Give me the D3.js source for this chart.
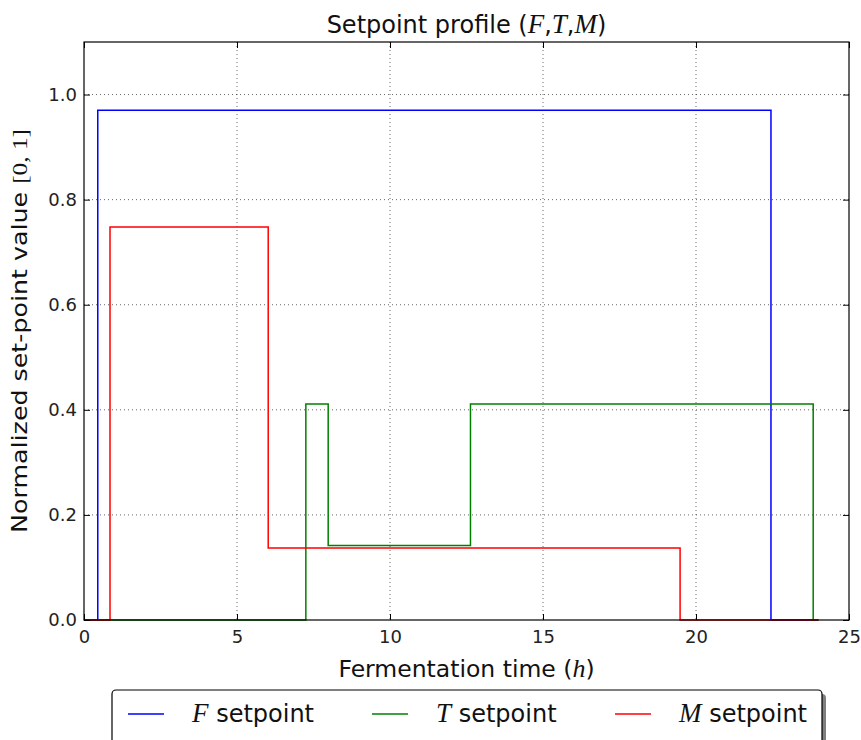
<!DOCTYPE html>
<html>
<head>
<meta charset="utf-8">
<script src="https://cdn.jsdelivr.net/npm/d3@7"></script>
<style>
  body { margin: 0; background: #fff; }
  svg { font-family: "DejaVu Sans", sans-serif; }
  .math { font-family: "Liberation Serif", serif; font-style: italic; }
</style>
</head>
<body>
<div id="chart"></div>
<script>
// step profiles: each value holds from its time until the next time
const fTimes = [0, 0.45, 22.45, 24];
const fValues = [0, 0.97, 0, 0];
const tTimes = [0, 7.25, 7.98, 12.63, 23.83, 24];
const tValues = [0, 0.411, 0.142, 0.411, 0, 0];
const mTimes = [0, 0.85, 6.02, 19.48, 24];
const mValues = [0, 0.748, 0.137, 0, 0];

const xTicks = [0, 5, 10, 15, 20, 25];
const yTicks = [0, 0.2, 0.4, 0.6, 0.8, 1.0];

const series = [
  { name: 'F', times: fTimes, values: fValues, color: '#0000ff' },
  { name: 'T', times: tTimes, values: tValues, color: '#008000' },
  { name: 'M', times: mTimes, values: mValues, color: '#ff0000' }
];

const width = 861, height = 740;
const margin = { left: 84, right: 12, top: 42, bottom: 120 };

const svg = d3.select('#chart').append('svg')
  .attr('width', width)
  .attr('height', height);

const x = d3.scaleLinear().domain([0, 25]).range([margin.left, width - margin.right]);
const y = d3.scaleLinear().domain([0, 1.1]).range([height - margin.bottom, margin.top]);

const plotW = x(25) - x(0);
const plotH = y(0) - y(1.1);

// grid
const grid = svg.append('g');
grid.selectAll('line.gx').data(xTicks.slice(1, -1)).enter().append('line')
  .attr('x1', d => x(d)).attr('x2', d => x(d))
  .attr('y1', y(1.1)).attr('y2', y(0))
  .attr('stroke', '#000').attr('stroke-width', 0.6).attr('stroke-dasharray', '1,3');
grid.selectAll('line.gy').data(yTicks.slice(1)).enter().append('line')
  .attr('x1', x(0)).attr('x2', x(25))
  .attr('y1', d => y(d)).attr('y2', d => y(d))
  .attr('stroke', '#000').attr('stroke-width', 0.6).attr('stroke-dasharray', '1,3');

// lines
const line = d3.line().curve(d3.curveStepAfter)
  .x(d => x(d[0])).y(d => y(d[1]));

svg.append('g').selectAll('path').data(series).enter().append('path')
  .attr('d', s => line(s.times.map((t, i) => [t, s.values[i]])))
  .attr('fill', 'none')
  .attr('stroke', s => s.color)
  .attr('stroke-width', 1.5);

// axes (inward ticks, classic style)
const axisFont = g => g.selectAll('text')
  .attr('font-family', '"DejaVu Sans", sans-serif')
  .attr('font-size', 18).attr('fill', '#222');

svg.append('g')
  .attr('transform', `translate(0,${y(0)})`)
  .call(d3.axisBottom(x).tickValues(xTicks).tickFormat(d3.format('d')).tickSizeInner(-6).tickSizeOuter(0).tickPadding(10))
  .call(g => g.select('.domain').remove())
  .call(axisFont);

svg.append('g')
  .attr('transform', `translate(0,${y(1.1)})`)
  .call(d3.axisTop(x).tickValues(xTicks).tickFormat('').tickSizeInner(-6).tickSizeOuter(0))
  .call(g => g.select('.domain').remove());

svg.append('g')
  .attr('transform', `translate(${x(0)},0)`)
  .call(d3.axisLeft(y).tickValues(yTicks).tickFormat(d3.format('.1f')).tickSizeInner(-6).tickSizeOuter(0).tickPadding(7))
  .call(g => g.select('.domain').remove())
  .call(axisFont);

svg.append('g')
  .attr('transform', `translate(${x(25)},0)`)
  .call(d3.axisRight(y).tickValues(yTicks).tickFormat('').tickSizeInner(-6).tickSizeOuter(0))
  .call(g => g.select('.domain').remove());

// frame
svg.append('rect')
  .attr('x', x(0)).attr('y', y(1.1))
  .attr('width', plotW).attr('height', plotH)
  .attr('fill', 'none').attr('stroke', '#000').attr('stroke-width', 1.2);

// title
const title = svg.append('text')
  .attr('x', (x(0) + x(25)) / 2).attr('y', 33)
  .attr('text-anchor', 'middle').attr('font-size', 24).attr('fill', '#111');
title.append('tspan').text('Setpoint profile (');
title.append('tspan').attr('class', 'math').attr('font-size', 27).text('F');
title.append('tspan').text(',');
title.append('tspan').attr('class', 'math').attr('font-size', 27).text('T');
title.append('tspan').text(',');
title.append('tspan').attr('class', 'math').attr('font-size', 27).text('M');
title.append('tspan').text(')');

// x label
const xl = svg.append('text')
  .attr('x', (x(0) + x(25)) / 2).attr('y', 677)
  .attr('text-anchor', 'middle').attr('font-size', 23.5).attr('fill', '#111');
xl.append('tspan').text('Fermentation time (');
xl.append('tspan').attr('class', 'math').attr('font-size', 26).text('h');
xl.append('tspan').text(')');

// y label
const yl = svg.append('text')
  .attr('transform', `translate(27,${(y(0) + y(1.1)) / 2}) rotate(-90)`)
  .attr('text-anchor', 'middle').attr('font-size', 22).attr('fill', '#111')
  .attr('textLength', 404).attr('lengthAdjust', 'spacingAndGlyphs');
yl.append('tspan').text('Normalized set-point value ');
yl.append('tspan').attr('font-family', '"Liberation Serif", serif').text('[0, 1]');

// legend
const legend = svg.append('g');
legend.append('rect')
  .attr('x', 116).attr('y', 694).attr('width', 710).attr('height', 70)
  .attr('rx', 4).attr('fill', '#7f7f7f');
legend.append('rect')
  .attr('x', 112).attr('y', 690).attr('width', 710).attr('height', 70)
  .attr('rx', 4).attr('fill', '#fff').attr('stroke', '#000').attr('stroke-width', 1.2);

const legendX = [128, 372, 615];
const items = legend.selectAll('g.item').data(series).enter().append('g')
  .attr('transform', (d, i) => `translate(${legendX[i]},714)`);
items.append('line')
  .attr('x1', 0).attr('x2', 36).attr('y1', 0).attr('y2', 0)
  .attr('stroke', d => d.color).attr('stroke-width', 1.5);
const lt = items.append('text').attr('x', 64).attr('y', 8).attr('font-size', 24).attr('fill', '#111');
lt.append('tspan').attr('class', 'math').attr('font-size', 27).text(d => d.name);
lt.append('tspan').text(' setpoint');
</script>
</body>
</html>
